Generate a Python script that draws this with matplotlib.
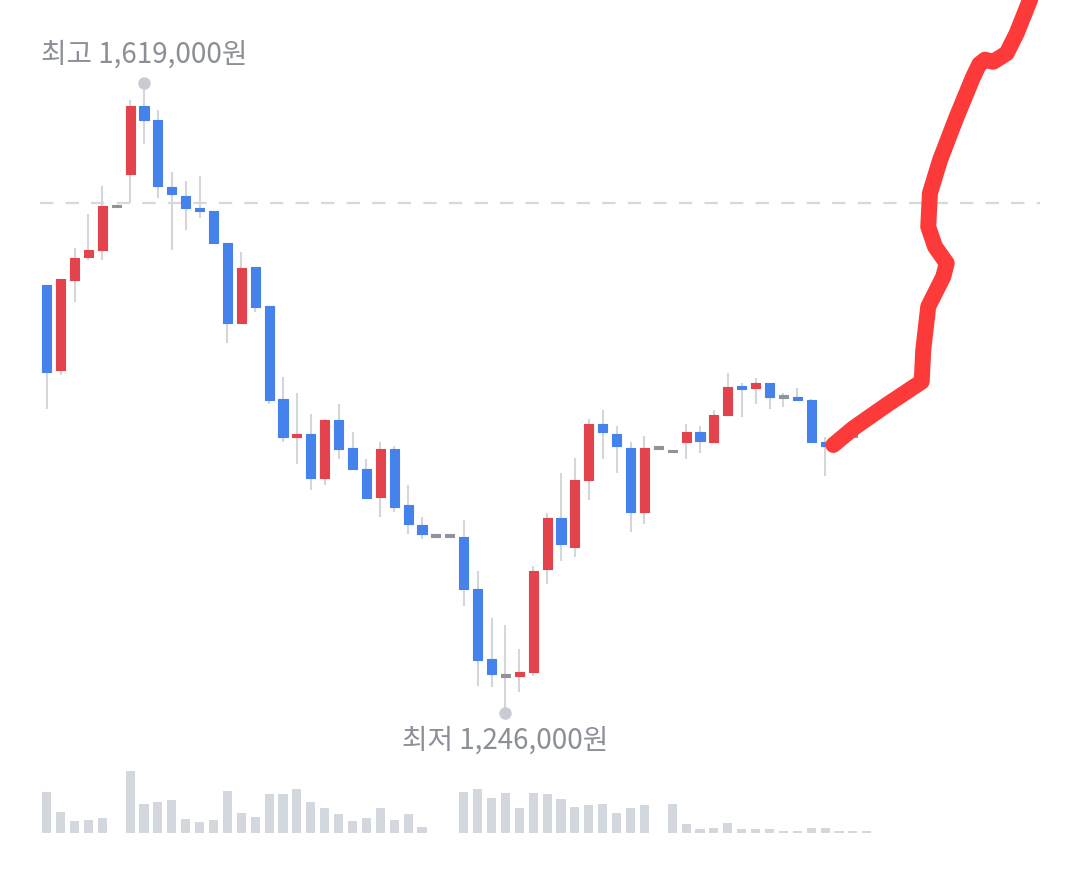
import numpy as np
import matplotlib
matplotlib.use("Agg")
import matplotlib.pyplot as plt

plt.rcParams['font.family'] = ['Noto Sans CJK KR', 'DejaVu Sans']

# daily candles, prices in 1,000 won
opens = [1499,1449,1502,1516,1520,1546,1565,1605,1597,1557,1552,1545,1543,1524,1477,1510,
         1487,1432,1409,1411,1385,1419,1403,1390,1374,1402,1369,1357,1351,1351,
         1350,1319,1278,1268,1268,1270,1331,1361,1344,1384,1417,1411,1403,1365,1403,1401,
         1406,1412,1406,1422,1439,1438,1441,1433,1433,1431,1406,1407,1410,1420]
closes = [1448,1503,1515,1520,1546,1546,1605,1597,1558,1553,1545,1543,1524,1477,1509,1486,
          1431,1409,1411,1385,1419,1402,1390,1373,1402,1368,1358,1352,1351,1351,
          1319,1277,1269,1268,1270,1330,1361,1346,1384,1417,1412,1404,1365,1403,1403,1401,
          1412,1407,1422,1439,1438,1441,1433,1433,1431,1406,1404,1407,1410,1420]
highs = [1499,1503,1521,1541,1558,1546,1609,1619,1603,1566,1561,1564,1543,1524,1519,1510,
         1487,1445,1435,1423,1420,1429,1412,1396,1406,1404,1381,1362,1351,1351,
         1360,1330,1302,1298,1284,1333,1364,1388,1397,1420,1425,1416,1406,1410,1403,1401,
         1417,1416,1425,1447,1441,1444,1441,1435,1438,1432,1409,1407,1410,1420]
lows = [1426,1446,1489,1514,1514,1546,1548,1583,1551,1520,1532,1539,1524,1465,1477,1483,
        1429,1406,1393,1378,1381,1396,1390,1373,1362,1365,1352,1349,1351,1351,
        1309,1262,1261,1246,1258,1268,1322,1336,1338,1372,1396,1388,1353,1358,1403,1401,
        1396,1400,1406,1422,1421,1429,1426,1427,1431,1406,1386,1407,1410,1420]
volumes = [123,63,35,38,43,0,186,86,92,98,40,33,38,125,58,46,115,115,130,91,75,55,34,45,75,38,55,18,0,0,
           121,131,103,120,75,118,116,102,76,82,87,59,73,82,0,87,25,10,15,28,12,10,10,6,6,13,14,6,6,6]

ref_price = 1548
hi_label = "최고 1,619,000원"
lo_label = "최저 1,246,000원"

# freehand red stroke drawn over the chart (index, price)
stroke_x = [56.59,58.03,60.43,62.95,63.06,63.42,64.50,64.75,63.91,63.42,63.54,64.27,65.47,
            66.66,67.10,67.50,68.10,69.06,69.78,70.74,71.03]
stroke_y = [1404.5,1414.4,1428.2,1442.0,1460.7,1486.4,1504.1,1512.1,1521.9,1533.7,1553.5,
            1573.2,1598.9,1622.6,1630.0,1632.6,1631.4,1636.4,1648.2,1668.0,1673.9]

RED = "#e2434c"
BLUE = "#4582ec"
FLAT = "#8f949c"
WICK = "#d3d7dc"
VOL = "#d3d7de"
TXT = "#8b8f97"

fig = plt.figure(figsize=(10.8, 8.91), dpi=100, facecolor="white")
ax = fig.add_axes([0, 0, 1, 1])
vax = fig.add_axes([0, 58.3/891, 1, 100/891])
for a in (ax, vax):
    a.set_xlim(-46.7/13.9, (1080-46.7)/13.9)
    a.axis("off")
    a.patch.set_alpha(0)
ax.set_ylim(1140.43, 1667.963)
vax.set_ylim(0, 300)

x = np.arange(len(opens))
o = np.array(opens, float); c = np.array(closes, float)
h = np.array(highs, float); l = np.array(lows, float)

# reference dashed line
ax.axhline(ref_price, xmin=40/1080, xmax=1040/1080, color="#d5d8dc", lw=1.6,
           dashes=(6, 5.5), zorder=1)

ax.vlines(x, l, h, color=WICK, lw=1.5, zorder=2)
cols = [RED if cc > oo else (BLUE if cc < oo else FLAT) for oo, cc in zip(o, c)]
bot = np.minimum(o, c)
hgt = np.maximum(np.abs(c - o), 1.6)
mid = (o + c) / 2
bot = np.where(np.abs(c - o) < 1.6, mid - 0.8, bot)
ax.bar(x, hgt, bottom=bot, width=0.66, color=cols, edgecolor=cols, lw=0.8,
       joinstyle="round", zorder=3)

# high / low markers
ih = int(np.argmax(h)); il = int(np.argmin(l))
ax.plot([ih], [h[ih]], "o", ms=9, color="#c8ccd2", mec="none", zorder=4)
ax.plot([il], [l[il]], "o", ms=9, color="#c8ccd2", mec="none", zorder=4)
ax.annotate(hi_label, (ih, h[ih]), xytext=(0, 28), textcoords="offset pixels",
            ha="center", va="center", fontsize=20, color=TXT)
ax.annotate(lo_label, (il, l[il]), xytext=(0, -28), textcoords="offset pixels",
            ha="center", va="center", fontsize=20, color=TXT)

v = np.array(volumes, float)
vax.bar(x, np.where(v > 0, np.maximum(v, 6), 0), width=0.66, color=VOL)

ax.plot(stroke_x, stroke_y, color="#fd3a3a", lw=11.5, solid_capstyle="round",
        solid_joinstyle="round", zorder=6)

fig.savefig("out.png", dpi=100, facecolor="white")
